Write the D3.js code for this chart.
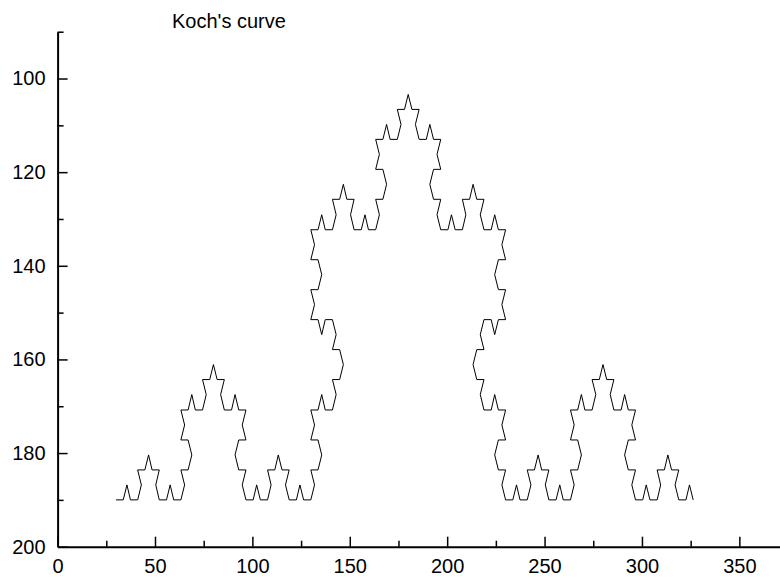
<!DOCTYPE html>
<html>
<head>
<meta charset="utf-8">
<script src="https://cdn.jsdelivr.net/npm/d3@7"></script>
<style>
  html, body { margin: 0; padding: 0; background: #ffffff; }
  svg { display: block; }
  text { font-family: "Liberation Sans", Arial, sans-serif; }
</style>
</head>
<body>
<svg id="chart" width="780" height="580"></svg>
<script>
// ---- data ----
const title = "Koch's curve";
const xMajorTicks = [0, 50, 100, 150, 200, 250, 300, 350];
const xMinorTicks = [25, 75, 125, 175, 225, 275, 325];
const yMajorTicks = [100, 120, 140, 160, 180, 200];
const yMinorTicks = [90, 110, 130, 150, 170, 190];

const kochX = [
  30.0, 33.7, 35.6, 37.4, 41.1, 43.0, 41.1, 44.8, 46.7, 48.5, 52.2, 50.4, 52.2, 55.9, 57.8, 59.6,
  63.3, 65.2, 63.3, 67.0, 68.9, 67.0, 63.3, 65.2, 63.3, 67.0, 68.9, 70.7, 74.4, 76.3, 74.4, 78.1,
  80.0, 81.9, 85.6, 83.7, 85.6, 89.3, 91.1, 93.0, 96.7, 94.8, 96.7, 93.0, 91.1, 93.0, 96.7, 94.8,
  96.7, 100.4, 102.2, 104.1, 107.8, 109.6, 107.8, 111.5, 113.3, 115.2, 118.9, 117.0, 118.9, 122.6, 124.4, 126.3,
  130.0, 131.9, 130.0, 133.7, 135.6, 133.7, 130.0, 131.9, 130.0, 133.7, 135.6, 137.4, 141.1, 143.0, 141.1, 144.8,
  146.7, 144.8, 141.1, 143.0, 141.1, 137.4, 135.6, 133.7, 130.0, 131.9, 130.0, 133.7, 135.6, 133.7, 130.0, 131.9,
  130.0, 133.7, 135.6, 137.4, 141.1, 143.0, 141.1, 144.8, 146.7, 148.5, 152.2, 150.4, 152.2, 155.9, 157.8, 159.6,
  163.3, 165.2, 163.3, 167.0, 168.9, 167.0, 163.3, 165.2, 163.3, 167.0, 168.9, 170.7, 174.4, 176.3, 174.4, 178.1,
  180.0, 181.9, 185.6, 183.7, 185.6, 189.3, 191.1, 193.0, 196.7, 194.8, 196.7, 193.0, 191.1, 193.0, 196.7, 194.8,
  196.7, 200.4, 202.2, 204.1, 207.8, 209.6, 207.8, 211.5, 213.3, 215.2, 218.9, 217.0, 218.9, 222.6, 224.4, 226.3,
  230.0, 228.1, 230.0, 226.3, 224.4, 226.3, 230.0, 228.1, 230.0, 226.3, 224.4, 222.6, 218.9, 217.0, 218.9, 215.2,
  213.3, 215.2, 218.9, 217.0, 218.9, 222.6, 224.4, 226.3, 230.0, 228.1, 230.0, 226.3, 224.4, 226.3, 230.0, 228.1,
  230.0, 233.7, 235.6, 237.4, 241.1, 243.0, 241.1, 244.8, 246.7, 248.5, 252.2, 250.4, 252.2, 255.9, 257.8, 259.6,
  263.3, 265.2, 263.3, 267.0, 268.9, 267.0, 263.3, 265.2, 263.3, 267.0, 268.9, 270.7, 274.4, 276.3, 274.4, 278.1,
  280.0, 281.9, 285.6, 283.7, 285.6, 289.3, 291.1, 293.0, 296.7, 294.8, 296.7, 293.0, 291.1, 293.0, 296.7, 294.8,
  296.7, 300.4, 302.2, 304.1, 307.8, 309.6, 307.8, 311.5, 313.3, 315.2, 318.9, 317.0, 318.9, 322.6, 324.4, 326.3
];
const kochY = [
  190.0, 190.0, 186.8, 190.0, 190.0, 186.8, 183.6, 183.6, 180.4, 183.6, 183.6, 186.8, 190.0, 190.0, 186.8, 190.0,
  190.0, 186.8, 183.6, 183.6, 180.4, 177.2, 177.2, 174.0, 170.8, 170.8, 167.5, 170.8, 170.8, 167.5, 164.3, 164.3,
  161.1, 164.3, 164.3, 167.5, 170.8, 170.8, 167.5, 170.8, 170.8, 174.0, 177.2, 177.2, 180.4, 183.6, 183.6, 186.8,
  190.0, 190.0, 186.8, 190.0, 190.0, 186.8, 183.6, 183.6, 180.4, 183.6, 183.6, 186.8, 190.0, 190.0, 186.8, 190.0,
  190.0, 186.8, 183.6, 183.6, 180.4, 177.2, 177.2, 174.0, 170.8, 170.8, 167.5, 170.8, 170.8, 167.5, 164.3, 164.3,
  161.1, 157.9, 157.9, 154.7, 151.5, 151.5, 154.7, 151.5, 151.5, 148.3, 145.1, 145.1, 141.9, 138.7, 138.7, 135.5,
  132.3, 132.3, 129.1, 132.3, 132.3, 129.1, 125.8, 125.8, 122.6, 125.8, 125.8, 129.1, 132.3, 132.3, 129.1, 132.3,
  132.3, 129.1, 125.8, 125.8, 122.6, 119.4, 119.4, 116.2, 113.0, 113.0, 109.8, 113.0, 113.0, 109.8, 106.6, 106.6,
  103.4, 106.6, 106.6, 109.8, 113.0, 113.0, 109.8, 113.0, 113.0, 116.2, 119.4, 119.4, 122.6, 125.8, 125.8, 129.1,
  132.3, 132.3, 129.1, 132.3, 132.3, 129.1, 125.8, 125.8, 122.6, 125.8, 125.8, 129.1, 132.3, 132.3, 129.1, 132.3,
  132.3, 135.5, 138.7, 138.7, 141.9, 145.1, 145.1, 148.3, 151.5, 151.5, 154.7, 151.5, 151.5, 154.7, 157.9, 157.9,
  161.1, 164.3, 164.3, 167.5, 170.8, 170.8, 167.5, 170.8, 170.8, 174.0, 177.2, 177.2, 180.4, 183.6, 183.6, 186.8,
  190.0, 190.0, 186.8, 190.0, 190.0, 186.8, 183.6, 183.6, 180.4, 183.6, 183.6, 186.8, 190.0, 190.0, 186.8, 190.0,
  190.0, 186.8, 183.6, 183.6, 180.4, 177.2, 177.2, 174.0, 170.8, 170.8, 167.5, 170.8, 170.8, 167.5, 164.3, 164.3,
  161.1, 164.3, 164.3, 167.5, 170.8, 170.8, 167.5, 170.8, 170.8, 174.0, 177.2, 177.2, 180.4, 183.6, 183.6, 186.8,
  190.0, 190.0, 186.8, 190.0, 190.0, 186.8, 183.6, 183.6, 180.4, 183.6, 183.6, 186.8, 190.0, 190.0, 186.8, 190.0
];

// ---- chart ----
const svg = d3.select("#chart");
const x = d3.scaleLinear().domain([0, 372]).range([57.6, 782.2]);
const y = d3.scaleLinear().domain([90, 200]).range([31.7, 546.7]);

const points = kochX.map((v, i) => [v, kochY[i]]);

// minor ticks
const xMinor = svg.append("g")
  .attr("transform", `translate(0,${y(200)})`)
  .call(d3.axisBottom(x).tickValues(xMinorTicks).tickSizeInner(-6).tickSizeOuter(0).tickFormat(""));
xMinor.select(".domain").remove();
xMinor.selectAll("line").attr("stroke", "#000").attr("stroke-width", 1.5);

const yMinor = svg.append("g")
  .attr("transform", `translate(${x(0)},0)`)
  .call(d3.axisLeft(y).tickValues(yMinorTicks).tickSizeInner(-6).tickSizeOuter(0).tickFormat(""));
yMinor.select(".domain").remove();
yMinor.selectAll("line").attr("stroke", "#000").attr("stroke-width", 1.5);

// major axes
const xAxis = svg.append("g")
  .attr("transform", `translate(0,${y(200)})`)
  .call(d3.axisBottom(x).tickValues(xMajorTicks).tickSizeInner(-10).tickSizeOuter(0).tickPadding(12).tickFormat(d3.format("d")));
xAxis.select(".domain").attr("stroke", "#000").attr("stroke-width", 2);
xAxis.selectAll("line").attr("stroke", "#000").attr("stroke-width", 1.5);
xAxis.selectAll("text").attr("font-size", 20).attr("fill", "#000")
  .attr("font-family", "'Liberation Sans', Arial, sans-serif");

const yAxis = svg.append("g")
  .attr("transform", `translate(${x(0)},0)`)
  .call(d3.axisLeft(y).tickValues(yMajorTicks).tickSizeInner(-10).tickSizeOuter(0).tickPadding(12).tickFormat(d3.format("d")));
yAxis.select(".domain").attr("stroke", "#000").attr("stroke-width", 2);
yAxis.selectAll("line").attr("stroke", "#000").attr("stroke-width", 1.5);
yAxis.selectAll("text").attr("font-size", 20).attr("fill", "#000")
  .attr("font-family", "'Liberation Sans', Arial, sans-serif");

// curve
const line = d3.line().x(d => x(d[0])).y(d => y(d[1]));
svg.append("path")
  .datum(points)
  .attr("d", line)
  .attr("fill", "none")
  .attr("stroke", "#000")
  .attr("stroke-width", 1)
  .attr("stroke-linejoin", "miter");

// title
svg.append("text")
  .attr("x", 172)
  .attr("y", 28)
  .attr("font-size", 20)
  .attr("fill", "#000")
  .text(title);
</script>
</body>
</html>
